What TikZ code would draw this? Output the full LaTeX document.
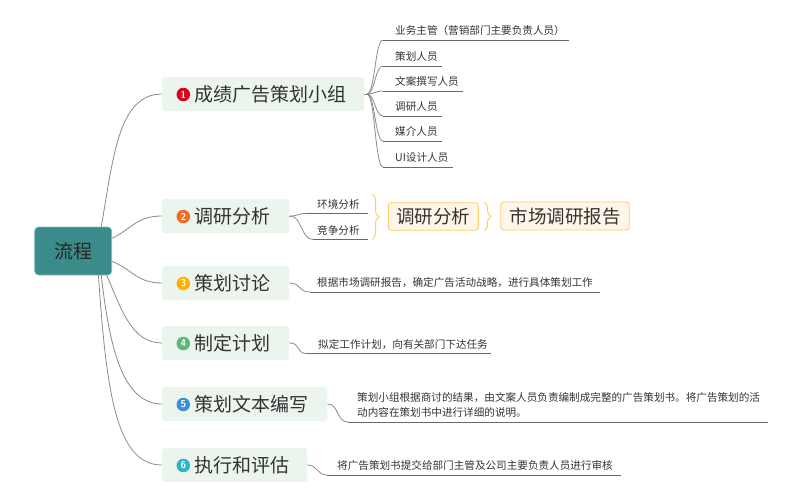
\documentclass[tikz,border=0pt]{standalone}
\usepackage{fontspec}
\newfontfamily\cjk{Noto Sans CJK SC}
\usetikzlibrary{decorations.pathreplacing}
\definecolor{rootfill}{HTML}{3A8B8A}
\definecolor{rootedge}{HTML}{7FB8B8}
\definecolor{boxfill}{HTML}{EBF4ED}
\definecolor{linegray}{HTML}{8A8A8A}
\definecolor{ulgray}{HTML}{6A6A6A}
\definecolor{txt}{HTML}{333333}
\definecolor{sumfill}{HTML}{FFF5E8}
\definecolor{sumedge}{HTML}{FFCC66}
\definecolor{bred}{HTML}{D9001B}
\definecolor{borange}{HTML}{F26B21}
\definecolor{byellow}{HTML}{FFB000}
\definecolor{bgreen}{HTML}{5CB87A}
\definecolor{bblue}{HTML}{3A8FD9}
\definecolor{bcyan}{HTML}{2BB3C8}
\tikzset{
  rootbox/.style={draw=rootedge, fill=rootfill, rounded corners=4pt, line width=0.8pt,
    minimum width=77pt, minimum height=48pt, inner sep=0pt,
    font=\cjk\fontsize{19}{19}\selectfont, text=black!85},
  branchbox/.style={fill=boxfill, rounded corners=3pt, minimum height=34pt, inner sep=0pt, anchor=west},
  branchtext/.style={font=\cjk\fontsize{19}{19}\selectfont, text=txt, inner sep=0pt, anchor=west},
  badge/.style={circle, inner sep=0pt, minimum size=13.5pt, text=white,
    font=\sffamily\bfseries\fontsize{10}{10}\selectfont},
  leaf/.style={font=\cjk\fontsize{10.6}{15.6}\selectfont, text=txt, inner xsep=0pt, inner ysep=4pt, anchor=south west, align=left},
  conn/.style={draw=linegray, line width=0.8pt},
  uline/.style={draw=ulgray, line width=0.8pt},
  sumbox/.style={draw=sumedge, fill=sumfill, rounded corners=3pt, line width=0.9pt, inner sep=0pt,
    font=\cjk\fontsize{18.5}{18.5}\selectfont, text=txt},
  bracestyle/.style={draw=sumedge, line width=1pt, decorate, decoration={brace, amplitude=7pt}}
}
\begin{document}
\begin{tikzpicture}[x=1pt, y=-1pt]
\useasboundingbox (0,0) rectangle (800,503);

% root
\node[rootbox] (root) at (73.2,251) {流程};

% branch boxes
\node[branchbox, minimum width=202pt] (b1) at (162,94) {};
\node[branchbox, minimum width=127pt] (b2) at (162,216) {};
\node[branchbox, minimum width=127pt] (b3) at (162,283) {};
\node[branchbox, minimum width=127pt] (b4) at (162,343) {};
\node[branchbox, minimum width=165pt] (b5) at (162,404) {};
\node[branchbox, minimum width=145pt] (b6) at (162,465) {};

% badges
\node[badge, fill=bred]    (g1) at (183.3,94.5)  {1};
\node[badge, fill=borange] (g2) at (183.3,216.5) {2};
\node[badge, fill=byellow] (g3) at (183.3,283.5) {3};
\node[badge, fill=bgreen]  (g4) at (183.3,343.5) {4};
\node[badge, fill=bblue]   (g5) at (183.3,404.5) {5};
\node[badge, fill=bcyan]   (g6) at (183.3,465.5) {6};

% branch texts
\node[branchtext] (t1) at (194.5,94)  {成绩广告策划小组};
\node[branchtext] (t2) at (194.5,216) {调研分析};
\node[branchtext] (t3) at (194.5,283) {策划讨论};
\node[branchtext] (t4) at (194.5,343) {制定计划};
\node[branchtext] (t5) at (194.5,404) {策划文本编写};
\node[branchtext] (t6) at (194.5,465) {执行和评估};

% root connectors
\draw[conn] (root.41)  .. controls +(12,-68) and +(-44,0) .. (b1.west);
\draw[conn] (root.18)  .. controls +(20,-10) and +(-25,0) .. (b2.west);
\draw[conn] (root.-15) .. controls +(20,8)   and +(-25,0) .. (b3.west);
\draw[conn] (root.-36) .. controls +(15,35)  and +(-30,0) .. (b4.west);
\draw[conn] (root.-41) .. controls +(8,70)   and +(-40,0) .. (b5.west);
\draw[conn] (root.-44) .. controls +(8,120)  and +(-45,0) .. (b6.west);

% branch 1 leaves
\coordinate (j1) at (367,94);
\node[leaf] (l11) at (395,40)  {业务主管（营销部门主要负责人员）};
\node[leaf] (l12) at (395,66)  {策划人员};
\node[leaf] (l13) at (395,91)  {文案撰写人员};
\node[leaf] (l14) at (395,116) {调研人员};
\node[leaf] (l15) at (395,141) {媒介人员};
\node[leaf] (l16) at (395,167) {UI设计人员};
\draw[conn] (b1.east) -- (j1);
\foreach \n in {l11,l12,l13,l14,l15,l16}{
  \draw[conn] (j1) .. controls +(8,0) and +(-8,0) .. ([xshift=-12pt]\n.south west);
  \draw[uline] ([xshift=-12pt]\n.south west) -- ([xshift=4pt]\n.south east);
}

% branch 2 leaves
\coordinate (j2) at (290,216);
\node[leaf] (l21) at (317,213.5) {环境分析};
\node[leaf] (l22) at (317,239.5) {竞争分析};
\draw[conn] (b2.east) -- (j2);
\draw[conn] (j2) .. controls +(8,0) and +(-8,0) .. ([xshift=-11pt]l21.south west);
\draw[conn] (j2) .. controls +(12,0) and +(-12,0) .. ([xshift=-4pt]l22.south west);
\draw[uline] ([xshift=-11pt]l21.south west) -- ([xshift=8pt]l21.south east);
\draw[uline] ([xshift=-4pt]l22.south west) -- ([xshift=8pt]l22.south east);

% braces and summary boxes
\coordinate (br1a) at (372,194);
\coordinate (br1b) at (372,239.5);
\draw[bracestyle] (br1a) -- (br1b);
\node[sumbox, minimum width=90pt, minimum height=27.5pt] (s1) at (433.3,216.5) {调研分析};
\coordinate (br2a) at (484,202);
\coordinate (br2b) at (484,231);
\draw[bracestyle] (br2a) -- (br2b);
\node[sumbox, minimum width=128.5pt, minimum height=28pt] (s2) at (565,216) {市场调研报告};

% branch 3 leaf
\node[leaf] (l31) at (317,292) {根据市场调研报告，确定广告活动战略，进行具体策划工作};
\draw[conn] (b3.east) .. controls +(12,0) and +(-12,0) .. ([xshift=-7pt]l31.south west);
\draw[uline] ([xshift=-7pt]l31.south west) -- ([xshift=7pt]l31.south east);

% branch 4 leaf
\node[leaf] (l41) at (318,353.5) {拟定工作计划，向有关部门下达任务};
\draw[conn] (b4.east) .. controls +(12,0) and +(-12,0) .. ([xshift=-11pt]l41.south west);
\draw[uline] ([xshift=-11pt]l41.south west) -- ([xshift=3pt]l41.south east);

% branch 5 leaf
\node[leaf] (l51) at (357,422) {策划小组根据商讨的结果，由文案人员负责编制成完整的广告策划书。将广告策划的活\\动内容在策划书中进行详细的说明。};
\draw[conn] (b5.east) .. controls +(12,0) and +(-12,0) .. ([xshift=-9pt]l51.south west);
\draw[uline] ([xshift=-9pt]l51.south west) -- ([xshift=8pt]l51.south east);

% branch 6 leaf
\node[leaf] (l61) at (337,475) {将广告策划书提交给部门主管及公司主要负责人员进行审核};
\draw[conn] (b6.east) .. controls +(10,0) and +(-10,0) .. ([xshift=-10pt]l61.south west);
\draw[uline] ([xshift=-10pt]l61.south west) -- ([xshift=8pt]l61.south east);
\end{tikzpicture}
\end{document}
